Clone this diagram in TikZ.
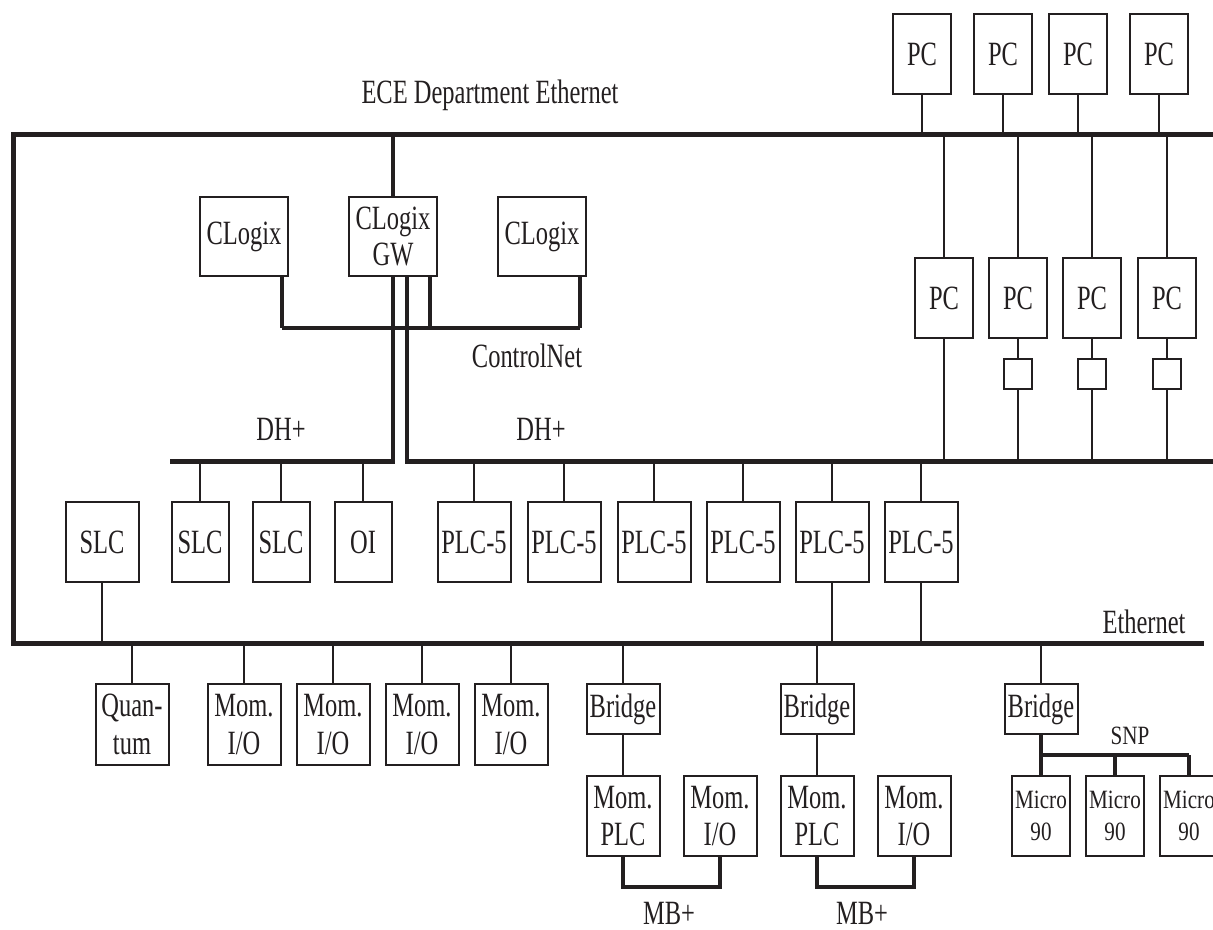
\documentclass[tikz,border=0pt]{standalone}
\usepackage{fontspec}
\setmainfont{Liberation Serif}[FakeStretch=0.72]
\newfontfamily\microfam{Liberation Serif}[FakeStretch=0.8]
\usetikzlibrary{calc}
\definecolor{ink}{RGB}{35,31,32}
\begin{document}
\begin{tikzpicture}[x=0.75pt,y=-0.75pt,
  buswire/.style={draw=ink,line width=3.75pt},
  midwire/.style={draw=ink,line width=2.5pt},
  thinwire/.style={draw=ink,line width=1.5pt},
  box/.style={draw=ink,line width=1.5pt,inner sep=0pt,align=center,text=ink,
    font=\fontsize{25.5}{28}\selectfont},
  pcbox/.style={box,minimum width=44pt,minimum height=60pt},
  wbox/.style={box,minimum width=54.75pt,minimum height=60pt},
  nbox/.style={box,minimum width=42.75pt,minimum height=60pt},
  clbox/.style={box,minimum width=66pt,minimum height=59.25pt,font=\fontsize{25.5}{27}\selectfont},
  brbox/.style={box,minimum width=54.75pt,minimum height=37.5pt},
  sbox/.style={box,minimum width=21pt,minimum height=22.5pt},
  microbox/.style={box,minimum width=43.5pt,minimum height=60pt,font=\microfam\fontsize{19.8}{24}\selectfont},
  lab/.style={anchor=base,inner sep=0pt,text=ink,font=\fontsize{25.5}{28}\selectfont},
  smalllab/.style={anchor=base,inner sep=0pt,text=ink,font=\microfam\fontsize{19.8}{24}\selectfont}
]
\useasboundingbox[fill=white] (0,0) rectangle (1213,930);

% bus reference coordinates
\coordinate (eTR) at (1213,135);
\coordinate (eTL) at (13,135);
\coordinate (eBL) at (13,643);
\coordinate (eBR) at (1204,643);
\coordinate (dhL) at (170,461);
\coordinate (dhLe) at (395,461);
\coordinate (dhRs) at (405,461);
\coordinate (dhR) at (1213,461);
\coordinate (cn) at (0,328);
\coordinate (mb) at (0,887);
\coordinate (snp) at (0,755);

% labels
\node[lab] (lece) at (490,104) {ECE Department Ethernet};
\node[lab] (ldh1) at (281,440) {DH+};
\node[lab] (ldh2) at (541,440) {DH+};
\node[lab] (lcn) at (527,368) {ControlNet};
\node[lab] (leth) at (1144,633) {Ethernet};
\node[smalllab] (lsnp) at (1130,744) {SNP};
\node[lab] (lmb1) at (669,924) {MB+};
\node[lab] (lmb2) at (862,924) {MB+};

% top PCs
\node[pcbox] (tp1) at (922,54) {PC};
\node[pcbox] (tp2) at (1003,54) {PC};
\node[pcbox] (tp3) at (1078,54) {PC};
\node[pcbox] (tp4) at (1159,54) {PC};
% lower PCs
\node[pcbox] (lp1) at (944,298) {PC};
\node[pcbox] (lp2) at (1018,298) {PC};
\node[pcbox] (lp3) at (1092,298) {PC};
\node[pcbox] (lp4) at (1167,298) {PC};
\node[sbox] (sb2) at (1018,374) {};
\node[sbox] (sb3) at (1092,374) {};
\node[sbox] (sb4) at (1167,374) {};

% CLogix
\node[clbox] (cl1) at (244,236.5) {CLogix};
\node[clbox] (gw) at (393,236.5) {CLogix\\GW};
\node[clbox] (cl3) at (542,236.5) {CLogix};

% DH+ row
\node[wbox] (slc1) at (102,542) {SLC};
\node[nbox] (slc2) at (200,542) {SLC};
\node[nbox] (slc3) at (281,542) {SLC};
\node[nbox] (oi) at (363,542) {OI};
\node[wbox] (p1) at (474,542) {PLC-5};
\node[wbox] (p2) at (564,542) {PLC-5};
\node[wbox] (p3) at (654,542) {PLC-5};
\node[wbox] (p4) at (743,542) {PLC-5};
\node[wbox] (p5) at (832,542) {PLC-5};
\node[wbox] (p6) at (921,542) {PLC-5};

% bottom row
\node[wbox,minimum height=60.75pt] (qu) at (132,724.5) {Quan-\\tum};
\node[wbox,minimum height=60.75pt] (mo1) at (244,724.5) {Mom.\\I/O};
\node[wbox,minimum height=60.75pt] (mo2) at (333,724.5) {Mom.\\I/O};
\node[wbox,minimum height=60.75pt] (mo3) at (422,724.5) {Mom.\\I/O};
\node[wbox,minimum height=60.75pt] (mo4) at (511,724.5) {Mom.\\I/O};
\node[brbox] (br1) at (623,709) {Bridge};
\node[brbox] (br2) at (817,709) {Bridge};
\node[brbox] (br3) at (1041,709) {Bridge};
\node[wbox] (mp1) at (623,816) {Mom.\\PLC};
\node[wbox] (mi1) at (720,816) {Mom.\\I/O};
\node[wbox] (mp2) at (817,816) {Mom.\\PLC};
\node[wbox] (mi2) at (914,816) {Mom.\\I/O};
\node[microbox] (m1) at (1041,816) {Micro\\90};
\node[microbox] (m2) at (1115,816) {Micro\\90};
\node[microbox] (m3) at (1189,816) {Micro\\90};

% Ethernet buses
\draw[buswire,line join=miter] (eTR) -- (eTL) -- (eBL) -- (eBR);
\draw[buswire] (dhL) -- (dhLe);
\draw[buswire] (dhRs) -- (dhR);

% top PCs to dept ethernet
\foreach \n in {tp1,tp2,tp3,tp4} \draw[thinwire] (\n.south) -- (\n.south |- eTR);
% dept ethernet to lower PCs
\foreach \n in {lp1,lp2,lp3,lp4} \draw[thinwire] (\n.north |- eTR) -- (\n.north);
\draw[thinwire] (lp1.south) -- (lp1.south |- dhR);
\draw[thinwire] (lp2.south) -- (sb2.north);
\draw[thinwire] (lp3.south) -- (sb3.north);
\draw[thinwire] (lp4.south) -- (sb4.north);
\foreach \n in {sb2,sb3,sb4} \draw[thinwire] (\n.south) -- (\n.south |- dhR);

% gateway
\draw[midwire] (gw.north) -- (gw.north |- eTR);
\draw[midwire] (gw.south) -- (gw.south |- dhLe);
\draw[midwire] ([xshift=10.5pt]gw.south) -- ([xshift=10.5pt]gw.south |- dhRs);
\draw[midwire] ([xshift=27.75pt]gw.south) -- ([xshift=27.75pt]gw.south |- cn);
% ControlNet
\draw[midwire] ([xshift=28.5pt]cl1.south) -- ([xshift=28.5pt]cl1.south |- cn);
\draw[midwire] ([xshift=28.5pt]cl3.south) -- ([xshift=28.5pt]cl3.south |- cn);
\draw[draw=ink,line width=3.3pt] ([xshift=28.5pt]cl1.south |- cn) -- ([xshift=28.5pt]cl3.south |- cn);

% DH+ drops
\foreach \n in {slc2,slc3,oi} \draw[thinwire] (\n.north |- dhL) -- (\n.north);
\foreach \n in {p1,p2,p3,p4,p5,p6} \draw[thinwire] (\n.north |- dhR) -- (\n.north);
% to plant Ethernet
\foreach \n in {slc1,p5,p6} \draw[thinwire] (\n.south) -- (\n.south |- eBL);
\foreach \n in {qu,mo1,mo2,mo3,mo4,br1,br2,br3} \draw[thinwire] (\n.north |- eBL) -- (\n.north);
\draw[thinwire] (br1.south) -- (mp1.north);
\draw[thinwire] (br2.south) -- (mp2.north);

% MB+
\draw[midwire,line join=miter] (mp1.south) -- (mp1.south |- mb) -- (mi1.south |- mb) -- (mi1.south);
\draw[midwire,line join=miter] (mp2.south) -- (mp2.south |- mb) -- (mi2.south |- mb) -- (mi2.south);

% SNP
\draw[midwire] (br3.south) -- (m1.north);
\draw[draw=ink,line width=3.5pt] (m1.north |- snp) -- (m3.north |- snp);
\draw[midwire] (m2.north |- snp) -- (m2.north);
\draw[midwire] (m3.north |- snp) -- (m3.north);
\end{tikzpicture}
\end{document}
